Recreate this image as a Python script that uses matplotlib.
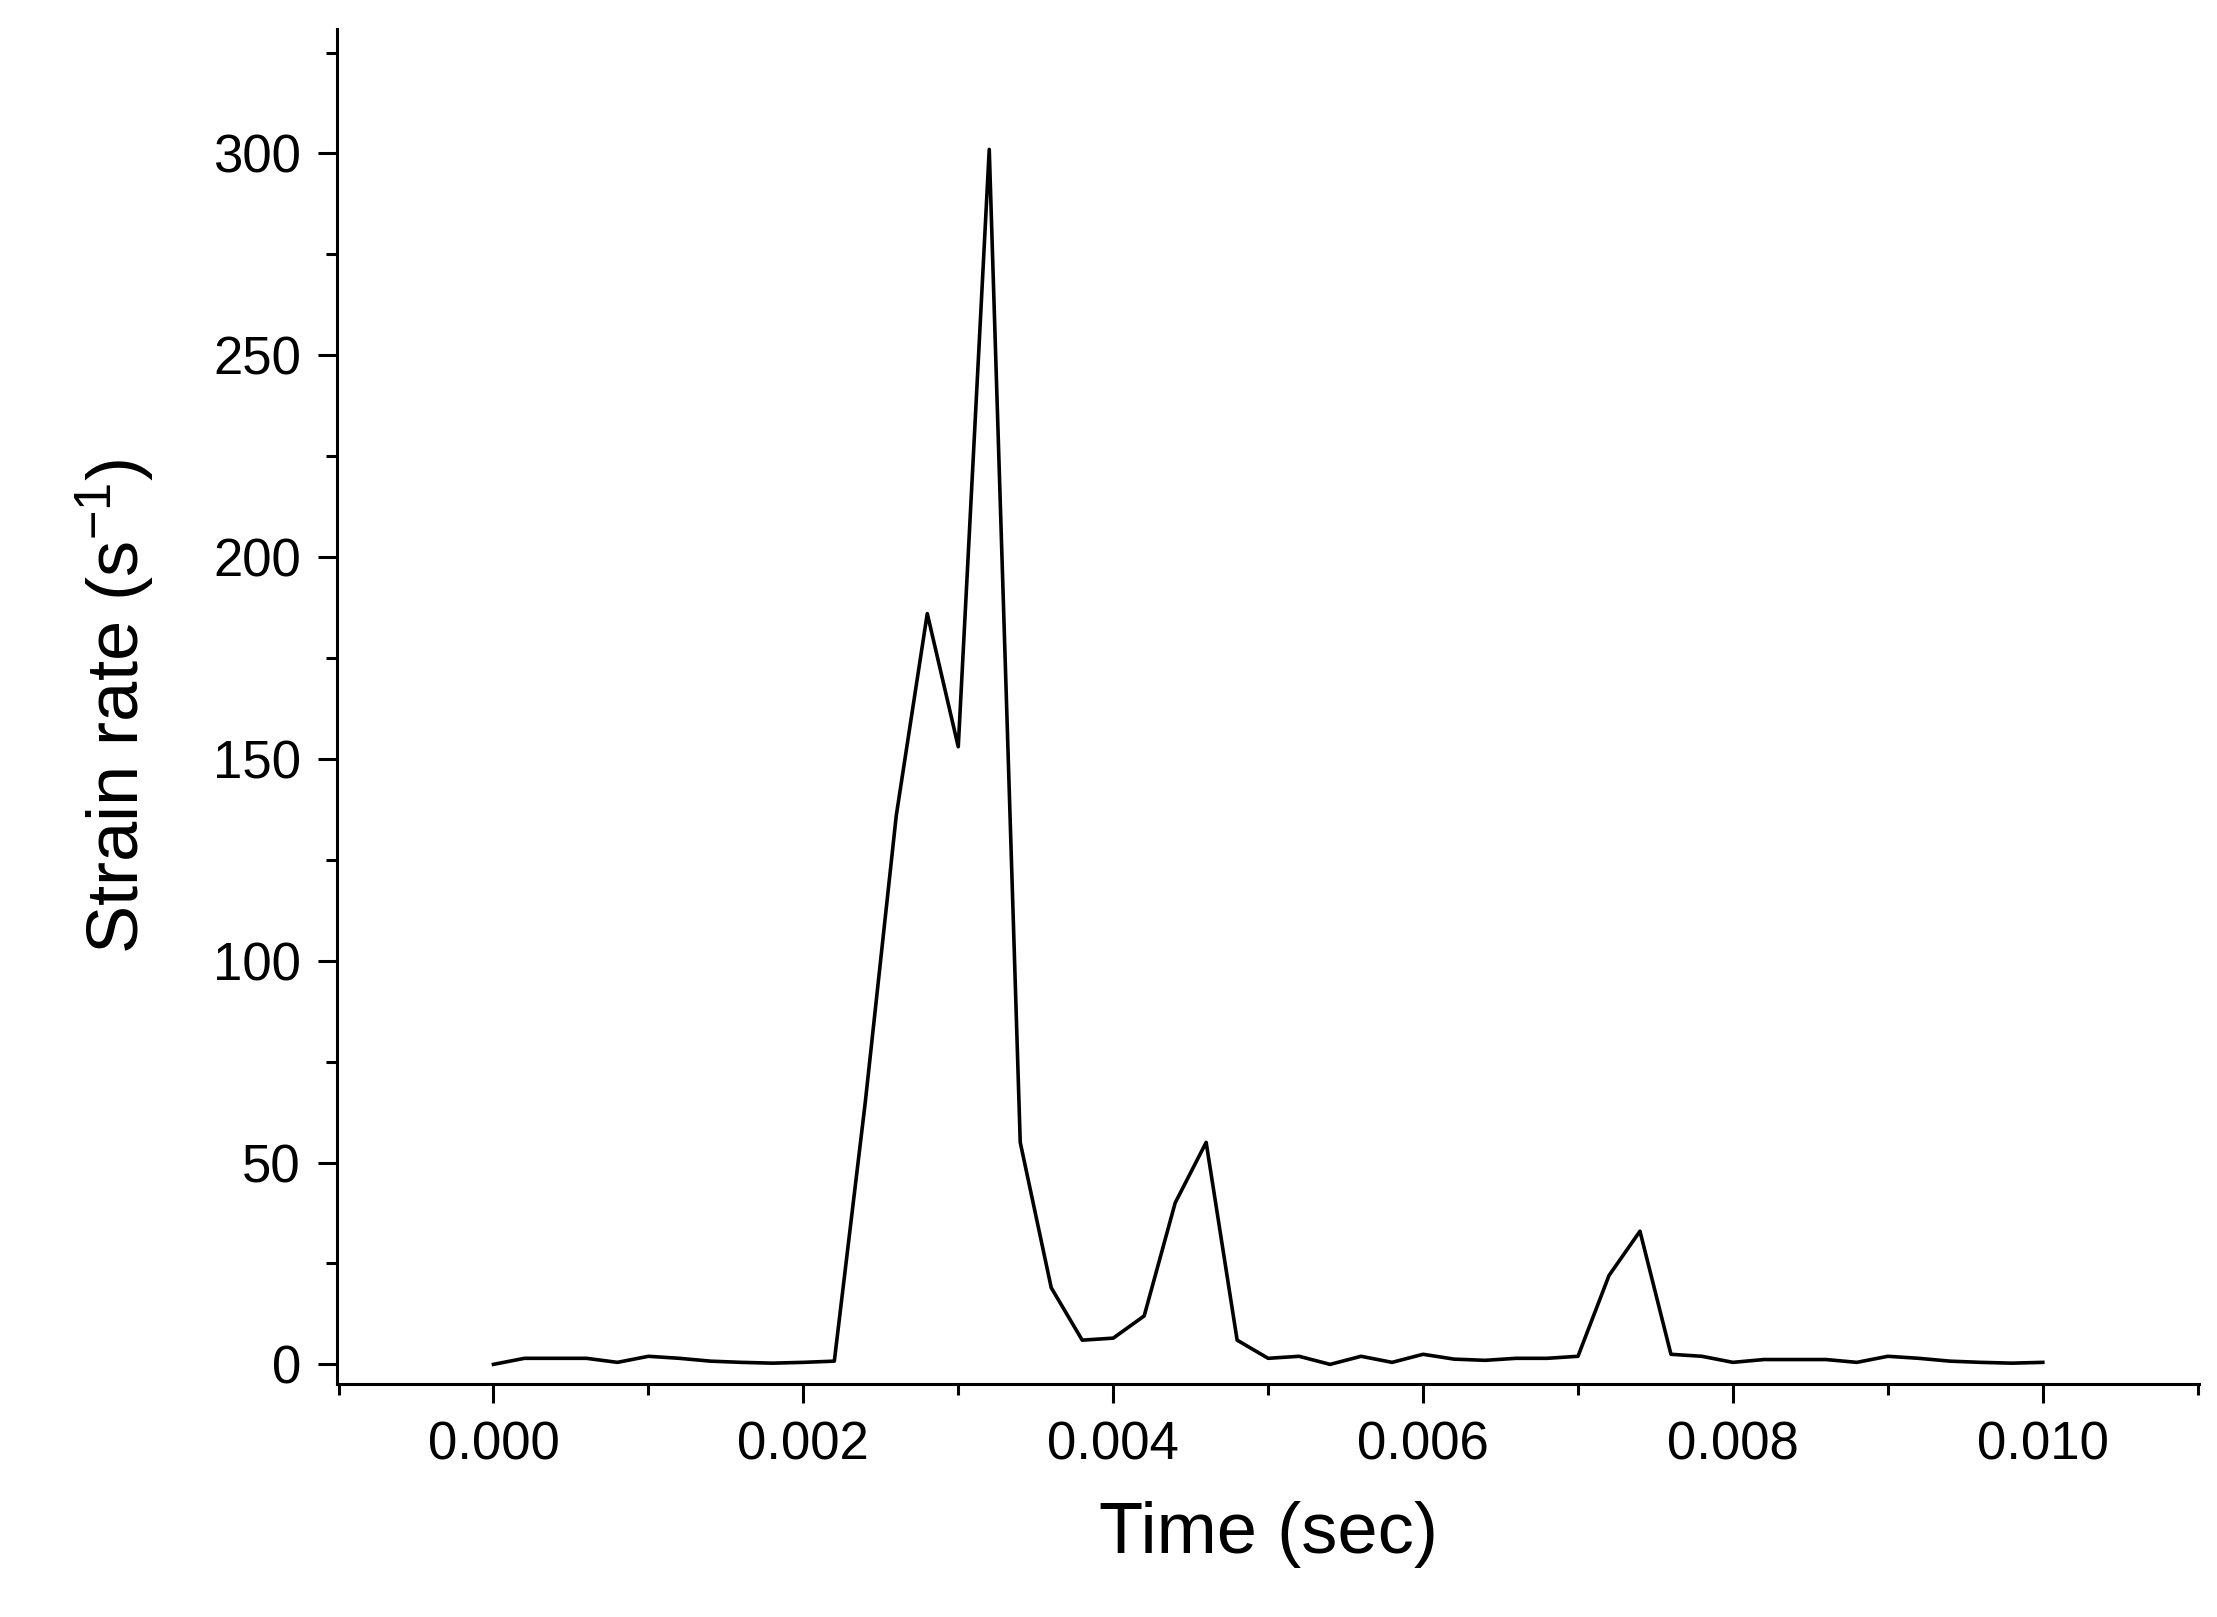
import matplotlib
matplotlib.use("Agg")
import matplotlib.pyplot as plt
from matplotlib.ticker import MultipleLocator, FormatStrFormatter

time = [i * 0.0002 for i in range(51)]
rate = [0, 1.5, 1.5, 1.5, 0.5, 2, 1.5, 0.8, 0.5, 0.3, 0.5, 0.8, 65, 136, 186, 153, 301, 55, 19, 6,
        6.5, 12, 40, 55, 6, 1.5, 2, 0, 2, 0.5, 2.5, 1.3, 1, 1.5, 1.5, 2, 22, 33, 2.5, 2, 0.5,
        1.2, 1.2, 1.2, 0.5, 2, 1.5, 0.8, 0.5, 0.3, 0.5]

plt.rcParams['font.family'] = ['Liberation Sans', 'DejaVu Sans']
fig = plt.figure(figsize=(22.17, 16.17), dpi=100)
ax = fig.add_axes([0.152, 0.144, 0.840, 0.838])
ax.plot(time, rate, color='black', lw=2.6)
ax.set_xlim(-0.00101, 0.01101)
ax.set_ylim(-4.9, 330.8)
ax.spines['top'].set_visible(False)
ax.spines['right'].set_visible(False)
for s in ax.spines.values():
    s.set_linewidth(2.2)
ax.xaxis.set_major_locator(MultipleLocator(0.002))
ax.xaxis.set_minor_locator(MultipleLocator(0.001))
ax.xaxis.set_major_formatter(FormatStrFormatter('%.3f'))
ax.yaxis.set_major_locator(MultipleLocator(50))
ax.yaxis.set_minor_locator(MultipleLocator(25))
ax.tick_params(which='major', direction='out', length=14, width=2.2, labelsize=38, pad=12)
ax.tick_params(which='minor', direction='out', length=8, width=2.2)
ax.set_xlabel('Time (sec)', fontsize=52, labelpad=22)
ax.set_ylabel('Strain rate (s$^{\\mathregular{-1}}$)', fontsize=52, labelpad=40)
fig.savefig('out.png', dpi=100)
